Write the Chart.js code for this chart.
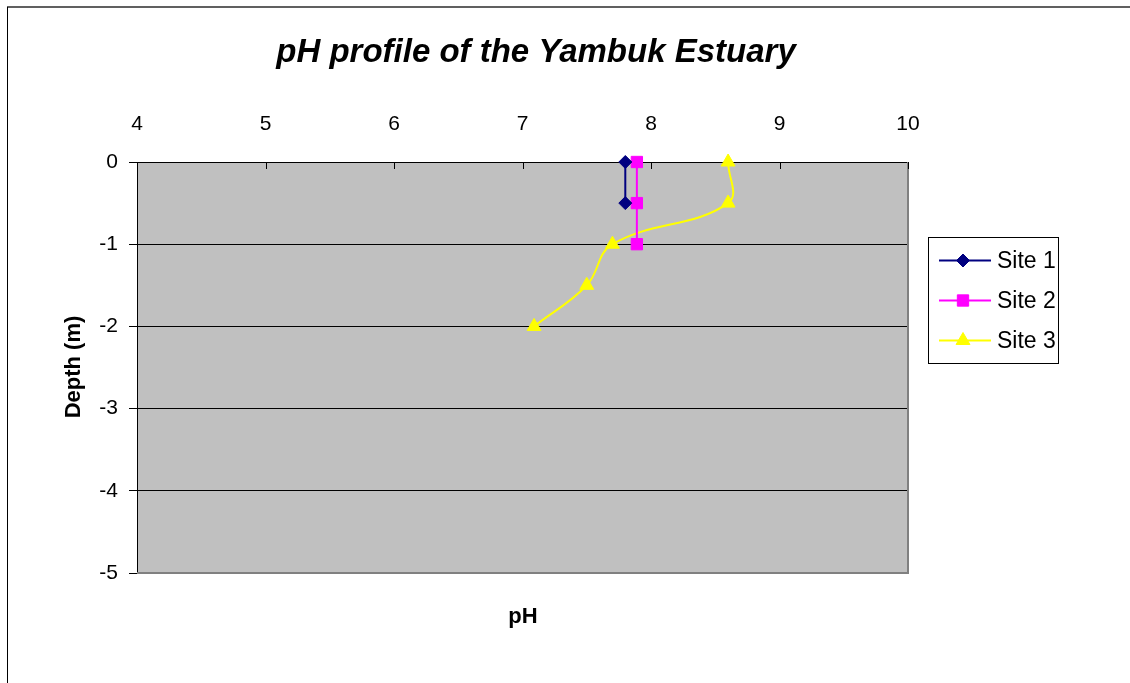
<!DOCTYPE html>
<html>
<head>
<meta charset="utf-8">
<script src="https://cdn.jsdelivr.net/npm/chart.js@4/dist/chart.umd.min.js"></script>
<style>
html,body{margin:0;padding:0;background:#fff;}
#wrap{position:absolute;left:0;top:0;width:1130px;height:683px;}
</style>
</head>
<body>
<div id="wrap"><canvas id="c" width="1130" height="683"></canvas></div>
<script>
// ---- data ----
const seriesNames = ['Site 1', 'Site 2', 'Site 3'];
const site1pH = [7.8, 7.8];
const site1Depth = [0, -0.5];
const site2pH = [7.89, 7.89, 7.89];
const site2Depth = [0, -0.5, -1];
const site3pH = [8.6, 8.6, 7.7, 7.5, 7.09];
const site3Depth = [0, -0.5, -1, -1.5, -2];
const xTicks = [4, 5, 6, 7, 8, 9, 10];
const yTicks = [0, -1, -2, -3, -4, -5];

const titleText = 'pH profile of the Yambuk Estuary';
const xTitle = 'pH';
const yTitle = 'Depth (m)';
const FONT = "'Liberation Sans', Arial, sans-serif";

function pts(xs, ys) { return xs.map((x, i) => ({x: x, y: ys[i]})); }

const decor = {
  id: 'decor',
  beforeDraw(chart) {
    const {ctx, chartArea: a} = chart;
    ctx.save();
    ctx.fillStyle = '#c0c0c0';
    ctx.fillRect(a.left, a.top, a.right - a.left, a.bottom - a.top);
    ctx.restore();
  },
  beforeDatasetsDraw(chart) {
    const {ctx, chartArea: a, scales} = chart;
    ctx.save();
    ctx.strokeStyle = '#808080';
    ctx.lineWidth = 2;
    ctx.beginPath();
    ctx.moveTo(a.right, a.top);
    ctx.lineTo(a.right, a.bottom);
    ctx.lineTo(a.left, a.bottom);
    ctx.stroke();
    ctx.strokeStyle = '#000';
    ctx.lineWidth = 1;
    ctx.beginPath();
    xTicks.forEach(v => {
      const px = Math.round(scales.x.getPixelForValue(v)) + 0.5;
      ctx.moveTo(px, a.top);
      ctx.lineTo(px, a.top + 7);
    });
    ctx.stroke();
    ctx.restore();
  },
  afterDraw(chart) {
    const {ctx} = chart;
    ctx.save();
    ctx.strokeStyle = '#606060';
    ctx.lineWidth = 2;
    ctx.beginPath();
    ctx.moveTo(7, 7); ctx.lineTo(1130, 7); ctx.stroke();
    ctx.strokeStyle = '#000';
    ctx.lineWidth = 1;
    ctx.beginPath();
    ctx.moveTo(7.5, 7); ctx.lineTo(7.5, 683); ctx.stroke();

    ctx.fillStyle = '#000';
    ctx.textAlign = 'center';
    ctx.textBaseline = 'alphabetic';
    ctx.font = 'italic bold 33px ' + FONT;
    ctx.fillText(titleText, 536, 62);
    ctx.font = 'bold 22px ' + FONT;
    ctx.fillText(xTitle, 523, 623);
    ctx.save();
    ctx.translate(80, 367);
    ctx.rotate(-Math.PI / 2);
    ctx.fillText(yTitle, 0, 0);
    ctx.restore();

    ctx.strokeStyle = '#000';
    ctx.lineWidth = 1;
    ctx.strokeRect(928.5, 237.5, 130, 126);
    const rows = [260.5, 300.5, 340.5];
    chart.data.datasets.forEach((ds, i) => {
      const y = rows[i];
      ctx.strokeStyle = ds.borderColor;
      ctx.lineWidth = 2;
      ctx.beginPath();
      ctx.moveTo(939, y); ctx.lineTo(991, y); ctx.stroke();
      ctx.fillStyle = ds.pointBackgroundColor;
      ctx.strokeStyle = ds.pointBorderColor;
      ctx.lineWidth = 1;
      Chart.helpers.drawPoint(ctx, {
        pointStyle: ds.pointStyle, rotation: 0, radius: ds.pointRadius, borderWidth: 1
      }, 963, y);
      ctx.fillStyle = '#000';
      ctx.textAlign = 'left';
      ctx.textBaseline = 'middle';
      ctx.font = '23px ' + FONT;
      ctx.fillText(ds.label, 997, y + 1);
    });
    ctx.restore();
  }
};

const mk = (label, data, color, style, r, tension) => ({
  label: label,
  data: data,
  showLine: true,
  borderColor: color,
  backgroundColor: color,
  borderWidth: 2,
  pointStyle: style,
  pointRadius: r,
  pointHoverRadius: r,
  pointBackgroundColor: color,
  pointBorderColor: color,
  pointBorderWidth: 1,
  tension: tension,
  clip: false
});

new Chart(document.getElementById('c'), {
  type: 'scatter',
  data: {
    datasets: [
      mk(seriesNames[0], pts(site1pH, site1Depth), '#000080', 'rectRot', 6.5, 0),
      mk(seriesNames[1], pts(site2pH, site2Depth), '#ff00ff', 'rect', 8, 0),
      mk(seriesNames[2], pts(site3pH, site3Depth), '#ffff00', 'triangle', 8, 0.4)
    ]
  },
  options: {
    responsive: false,
    animation: false,
    devicePixelRatio: 1,
    layout: { padding: { left: 0, top: 0, right: 222, bottom: 110 } },
    plugins: { legend: { display: false }, title: { display: false }, tooltip: { enabled: false } },
    scales: {
      x: {
        type: 'linear',
        position: 'top',
        min: 4, max: 10,
        afterBuildTicks(s) { s.ticks = xTicks.map(v => ({value: v})); },
        afterFit(s) { s.height = 162; },
        ticks: { color: '#000', font: { family: FONT, size: 21 }, padding: 25, maxRotation: 0 },
        grid: { display: false, drawTicks: false, tickLength: 0 },
        border: { display: true, color: '#000', width: 1 }
      },
      y: {
        type: 'linear',
        position: 'left',
        min: -5, max: 0,
        afterBuildTicks(s) { s.ticks = yTicks.map(v => ({value: v})); },
        afterFit(s) { s.width = 137; },
        ticks: { color: '#000', font: { family: FONT, size: 21 }, padding: 11 },
        grid: {
          color: ctx => (ctx.tick && ctx.tick.value === -5) ? '#808080' : '#000',
          tickColor: '#000',
          lineWidth: 1,
          tickLength: 8,
          drawTicks: true
        },
        border: { display: true, color: '#000', width: 1 }
      }
    }
  },
  plugins: [decor]
});
</script>
</body>
</html>
